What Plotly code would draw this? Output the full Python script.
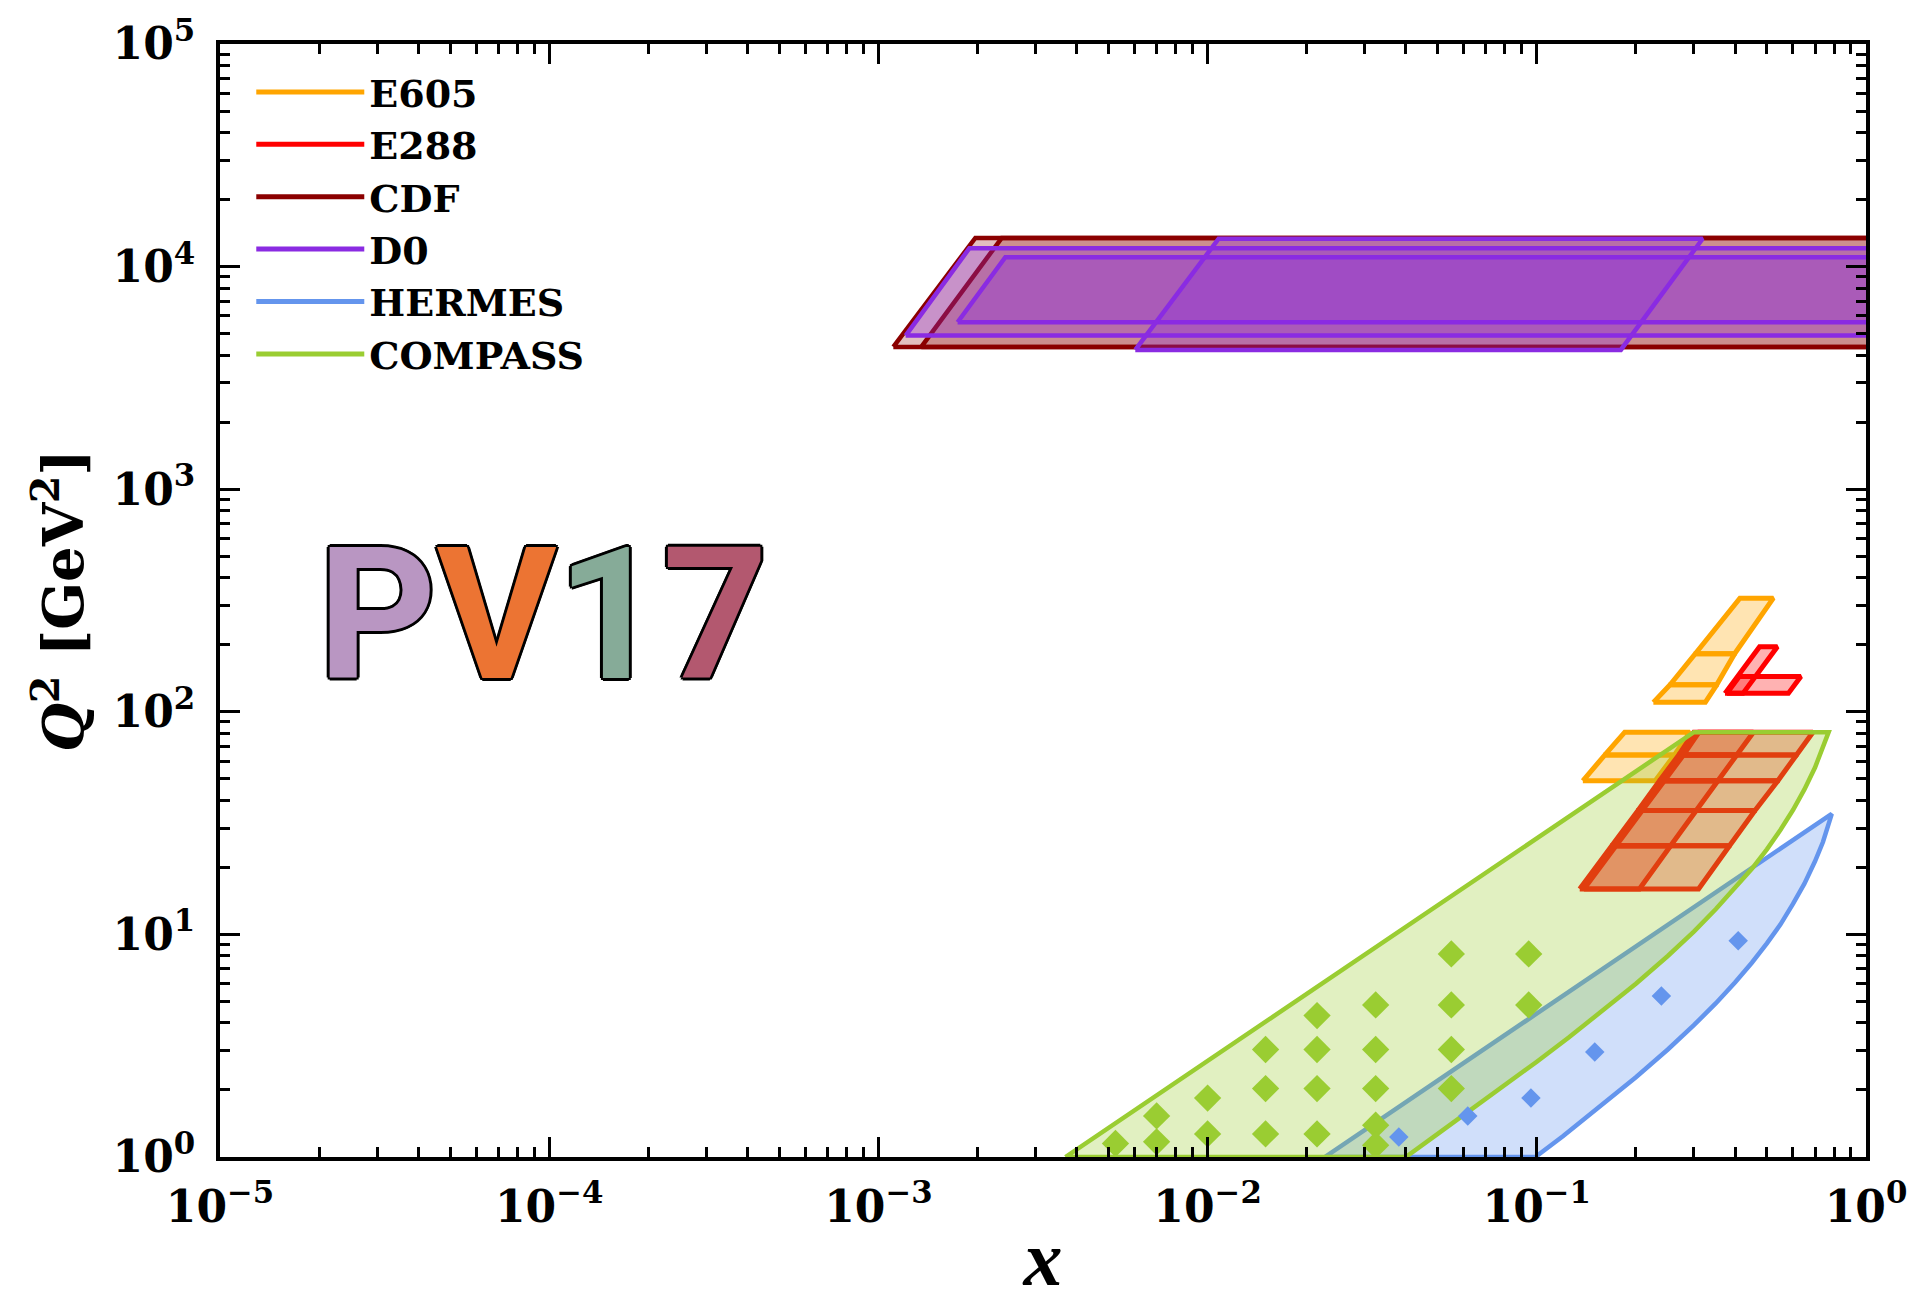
import plotly.graph_objects as go

# ---------------- data ----------------
# COMPASS SIDIS bins (x, Q^2)
compass_x = [0.00525, 0.0070, 0.0070, 0.0100, 0.0100, 0.0150, 0.0150, 0.0150,
             0.0215, 0.0215, 0.0215, 0.0215, 0.0324, 0.0324, 0.0324, 0.0324, 0.0324,
             0.055, 0.055, 0.055, 0.055, 0.0945, 0.0945]
compass_q2 = [1.15, 1.53, 1.17, 1.84, 1.27, 3.04, 2.03, 1.27,
              4.32, 3.04, 2.03, 1.27, 4.82, 3.04, 2.03, 1.39, 1.13,
              8.17, 4.82, 3.04, 2.03, 8.17, 4.82]
# COMPASS kinematic region outline
compass_reg_x = [0.0037, 0.30, 0.77, 0.74, 0.70, 0.65, 0.60, 0.55, 0.50, 0.45, 0.40, 0.35, 0.30,
                 0.25, 0.20, 0.15, 0.125, 0.10, 0.08, 0.060, 0.050, 0.040, 0.0037]
compass_reg_q2 = [1.0, 81.0, 81.0, 68.6, 56.2, 44.8, 36.2, 29.5, 24.1, 19.7, 16.1, 13.0, 10.3,
                  8.0, 6.0, 4.25, 3.44, 2.68, 2.1, 1.54, 1.27, 1.0, 1.0]

# HERMES SIDIS bins
hermes_x = [0.0381, 0.0617, 0.096, 0.150, 0.239, 0.409]
hermes_q2 = [1.23, 1.53, 1.84, 2.96, 5.29, 9.37]
# HERMES kinematic region outline
hermes_reg_x = [0.0227, 0.787, 0.776, 0.74, 0.70, 0.65, 0.60, 0.55, 0.50, 0.45, 0.40, 0.35, 0.30,
                0.25, 0.20, 0.15, 0.12, 0.099, 0.0227]
hermes_reg_q2 = [1.0, 34.8, 32.5, 26.0, 21.3, 16.9, 13.7, 11.1, 9.12, 7.46, 6.08, 4.91, 3.91,
                 3.04, 2.28, 1.61, 1.24, 1.0, 1.0]

# E605 strips: Q^2 bin edges, x at left / right edge of each bin edge
e605_low_q2 = [49.0, 64.0, 81.0]
e605_low_xl = [0.138, 0.161, 0.185]
e605_low_xr = [0.229, 0.262, 0.292]
e605_high_q2 = [110.25, 132.25, 182.25, 324.0]
e605_high_xl = [0.226, 0.254, 0.303, 0.414]
e605_high_xr = [0.325, 0.352, 0.399, 0.523]

# E288 strips
e288_q2 = [16.0, 25.0, 36.0, 49.0, 64.0, 81.0]
e288_a_xl = [0.135, 0.169, 0.203, 0.236, 0.270, 0.300]
e288_a_xr = [0.205, 0.255, 0.305, 0.355, 0.405, 0.455]
e288_b_xl = [0.139, 0.174, 0.209, 0.244, 0.279, 0.311]
e288_b_xr = [0.310, 0.385, 0.460, 0.540, 0.615, 0.690]
e288_c_q2 = [121.0, 196.0]
e288_c_xl = [0.373, 0.475]
e288_c_xr = [0.423, 0.538]
e288_d_q2 = [121.0, 144.0]
e288_d_xl = [0.378, 0.412]
e288_d_xr = [0.581, 0.634]

# CDF bands (Q^2 edges, x left/right at lower and upper Q^2)
cdf1_q2, cdf1_xl, cdf1_xr = [4356.0, 13456.0], [1.11e-3, 1.97e-3], [2.0, 3.5]
cdf2_q2, cdf2_xl, cdf2_xr = [4356.0, 13456.0], [1.35e-3, 2.37e-3], [2.0, 3.5]
# D0 bands
d0a_q2, d0a_xl, d0a_xr = [5625.0, 11025.0], [1.74e-3, 2.43e-3], [2.0, 3.0]
d0b_q2, d0b_xl, d0b_xr = [4900.0, 12100.0], [1.21e-3, 1.89e-3], [2.0, 3.2]
d0c_q2, d0c_xl, d0c_xr = [4225.0, 13340.0], [6.03e-3, 1.08e-2], [0.180, 0.319]

x_tickvals = [1e-5, 1e-4, 1e-3, 1e-2, 1e-1, 1]
x_ticktext = ["10<sup>−5</sup>", "10<sup>−4</sup>", "10<sup>−3</sup>", "10<sup>−2</sup>", "10<sup>−1</sup>", "10<sup>0</sup>"]
y_tickvals = [1, 1e1, 1e2, 1e3, 1e4, 1e5]
y_ticktext = ["10<sup>0</sup>", "10<sup>1</sup>", "10<sup>2</sup>", "10<sup>3</sup>", "10<sup>4</sup>", "10<sup>5</sup>"]

# ---------------- colours ----------------
C_E605 = "rgb(255,165,0)"
C_E288 = "rgb(255,0,0)"
C_CDF = "rgb(139,0,0)"
C_D0 = "rgb(138,43,226)"
C_HER = "rgb(100,149,237)"
C_COM = "rgb(154,205,50)"

SERIF = "DejaVu Serif, Liberation Serif, serif"


def strip_path(q2, xl, xr):
    xs, ys = [], []
    for i in range(len(q2) - 1):
        xs += [xl[i], xr[i], xr[i + 1], xl[i + 1], xl[i], None]
        ys += [q2[i], q2[i], q2[i + 1], q2[i + 1], q2[i], None]
    return xs[:-1], ys[:-1]


fig = go.Figure()


def add_strip(q2, xl, xr, line, fill, lw=4.5):
    xs, ys = strip_path(q2, xl, xr)
    fig.add_trace(go.Scatter(x=xs, y=ys, mode="lines", fill="toself", fillcolor=fill,
                             line=dict(color=line, width=lw), showlegend=False,
                             hoverinfo="skip", connectgaps=False))


# E605
add_strip(e605_low_q2, e605_low_xl, e605_low_xr, C_E605, "rgba(255,165,0,0.3)", 5)
add_strip(e605_high_q2, e605_high_xl, e605_high_xr, C_E605, "rgba(255,165,0,0.3)", 5)
# E288
add_strip(e288_q2, e288_a_xl, e288_a_xr, C_E288, "rgba(255,0,0,0.3)", 5)
add_strip(e288_q2, e288_b_xl, e288_b_xr, C_E288, "rgba(255,0,0,0.3)", 5)
add_strip(e288_c_q2, e288_c_xl, e288_c_xr, C_E288, "rgba(255,0,0,0.3)", 5)
add_strip(e288_d_q2, e288_d_xl, e288_d_xr, C_E288, "rgba(255,0,0,0.3)", 5)
# CDF
add_strip(cdf1_q2, cdf1_xl, cdf1_xr, C_CDF, "rgba(139,0,0,0.25)")
add_strip(cdf2_q2, cdf2_xl, cdf2_xr, C_CDF, "rgba(139,0,0,0.25)")
# D0
add_strip(d0b_q2, d0b_xl, d0b_xr, C_D0, "rgba(138,43,226,0.3)")
add_strip(d0a_q2, d0a_xl, d0a_xr, C_D0, "rgba(138,43,226,0.3)")
add_strip(d0c_q2, d0c_xl, d0c_xr, C_D0, "rgba(138,43,226,0.3)")

# HERMES region
fig.add_trace(go.Scatter(x=hermes_reg_x, y=hermes_reg_q2, mode="lines", fill="toself",
                         fillcolor="rgba(100,149,237,0.3)", line=dict(color=C_HER, width=4.5),
                         showlegend=False, hoverinfo="skip"))
# COMPASS region
fig.add_trace(go.Scatter(x=compass_reg_x, y=compass_reg_q2, mode="lines", fill="toself",
                         fillcolor="rgba(154,205,50,0.3)", line=dict(color=C_COM, width=4.5),
                         showlegend=False, hoverinfo="skip"))
# markers
fig.add_trace(go.Scatter(x=hermes_x, y=hermes_q2, mode="markers",
                         marker=dict(symbol="diamond", size=15, color=C_HER),
                         showlegend=False))
fig.add_trace(go.Scatter(x=compass_x, y=compass_q2, mode="markers",
                         marker=dict(symbol="diamond", size=21, color=C_COM),
                         showlegend=False))

# legend entries
for name, col in [("E605", C_E605), ("E288", C_E288), ("CDF", C_CDF), ("D0", C_D0),
                  ("HERMES", C_HER), ("COMPASS", C_COM)]:
    fig.add_trace(go.Scatter(x=[None], y=[None], mode="lines", name=name,
                             line=dict(color=col, width=5)))

# PV17 logo (single text, one colour per letter, black outline via text shadow)
outline = ("3px 0 0 #000, -3px 0 0 #000, 0 3px 0 #000, 0 -3px 0 #000, "
           "2px 2px 0 #000, -2px -2px 0 #000, 2px -2px 0 #000, -2px 2px 0 #000")
logo_text = ("<b><span style='color:#b996c2'>P</span>"
             "<span style='color:#ec7433'>V</span>"
             "<span style='color:#86ab98'>1</span>"
             "<span style='color:#b3586f'>7</span></b>")
fig.add_annotation(x=(543 - 220) / 1646, y=(1162 - 614) / 1125, xref="paper", yref="paper",
                   text=logo_text, showarrow=False, xanchor="center", yanchor="middle",
                   font=dict(family="Roboto, Arial, Liberation Sans, sans-serif", size=184,
                             color="#b996c2", shadow=outline))

tick_font = dict(family=SERIF, size=44, color="black", weight="bold")

x_minor = [k * 10.0 ** d for d in range(-5, 0) for k in range(2, 10)]
y_minor = [k * 10.0 ** d for d in range(0, 5) for k in range(2, 10)]

fig.update_xaxes(type="log", range=[-5, 0], tickmode="array", tickvals=x_tickvals, ticktext=x_ticktext,
                 ticks="inside", ticklen=20, tickwidth=3, tickcolor="black",
                 minor=dict(tickmode="array", tickvals=x_minor, ticks="inside", ticklen=10,
                            tickwidth=2.5, tickcolor="black", showgrid=False),
                 showline=True, linewidth=4, linecolor="black", mirror="allticks",
                 showgrid=False, zeroline=False, tickfont=tick_font, ticklabelstandoff=8,
                 title=dict(text="<b><i>x</i></b>",
                            font=dict(family="Liberation Serif, DejaVu Serif, serif", size=78, color="black"),
                            standoff=4))
fig.update_yaxes(type="log", range=[0, 5], tickmode="array", tickvals=y_tickvals, ticktext=y_ticktext,
                 ticks="inside", ticklen=20, tickwidth=3, tickcolor="black",
                 minor=dict(tickmode="array", tickvals=y_minor, ticks="inside", ticklen=10,
                            tickwidth=2.5, tickcolor="black", showgrid=False),
                 showline=True, linewidth=4, linecolor="black", mirror="allticks",
                 showgrid=False, zeroline=False, tickfont=tick_font, ticklabelstandoff=12,
                 title=dict(text="<b><i>Q</i><sup>2</sup> [GeV<sup>2</sup>]</b>",
                            font=dict(family=SERIF, size=56, color="black"), standoff=12))

fig.update_layout(
    width=1919, height=1302,
    margin=dict(l=220, r=53, t=37, b=140),
    plot_bgcolor="white", paper_bgcolor="white",
    legend=dict(x=0.019, y=0.985, xanchor="left", yanchor="top",
                font=dict(family=SERIF, size=38, color="black", weight="bold"),
                bgcolor="rgba(0,0,0,0)", itemwidth=108, tracegroupgap=0),
)

fig.write_html("out.html")
